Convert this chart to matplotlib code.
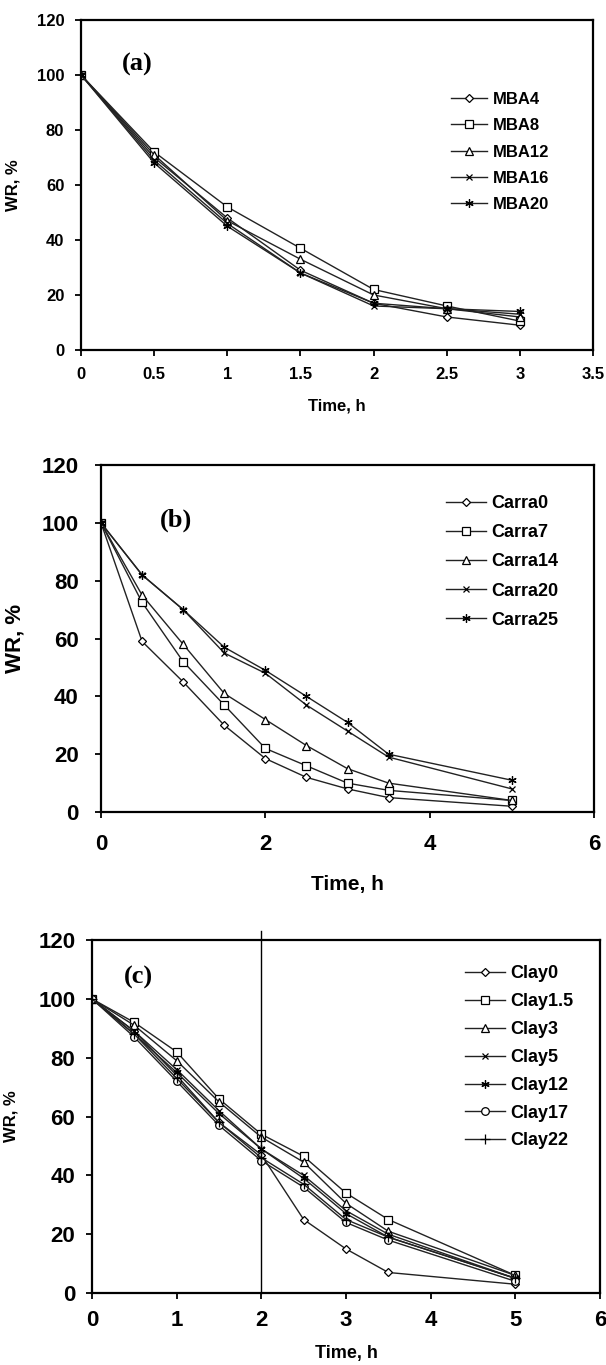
import numpy as np
import matplotlib
matplotlib.use('Agg')
import matplotlib.pyplot as plt

plt.rcParams['font.family'] = ['Liberation Sans', 'DejaVu Sans']
plt.rcParams['font.weight'] = 'bold'
plt.rcParams['axes.labelweight'] = 'bold'

# panel (a): MBA content
time_a = [0, 0.5, 1, 1.5, 2, 2.5, 3]
mba_names = ['MBA4', 'MBA8', 'MBA12', 'MBA16', 'MBA20']
mba4 = [100, 70, 48, 29, 17, 12, 9]
mba8 = [100, 72, 52, 37, 22, 16, 10.5]
mba12 = [100, 71, 47, 33, 20, 15, 12]
mba16 = [100, 69, 46, 28, 16, 15, 13]
mba20 = [100, 68, 45, 28, 17, 15, 14]

# panel (b): carrageenan content
time_b = [0, 0.5, 1, 1.5, 2, 2.5, 3, 3.5, 5]
carra_names = ['Carra0', 'Carra7', 'Carra14', 'Carra20', 'Carra25']
carra0 = [100, 59, 45, 30, 18.5, 12, 8, 5, 2]
carra7 = [100, 72.5, 52, 37, 22, 16, 10, 7.5, 4]
carra14 = [100, 75, 58, 41, 32, 23, 15, 10, 4]
carra20 = [100, 82, 70, 55, 48, 37, 28, 19, 8]
carra25 = [100, 82, 70, 57, 49, 40, 31, 20, 11]

# panel (c): clay content
time_c = [0, 0.5, 1, 1.5, 2, 2.5, 3, 3.5, 5]
clay_names = ['Clay0', 'Clay1.5', 'Clay3', 'Clay5', 'Clay12', 'Clay17', 'Clay22']
clay0 = [100, 89, 74, 58, 47, 25, 15, 7, 3]
clay1_5 = [100, 92, 82, 66, 54, 46.5, 34, 25, 6]
clay3 = [100, 91, 79, 65, 53, 44.5, 30.5, 21, 6]
clay5 = [100, 89, 76, 62, 49, 40, 28, 20, 5]
clay12 = [100, 88, 75, 61, 49, 39, 27, 19, 5]
clay17 = [100, 87, 72, 57, 45, 36, 24, 18, 4]
clay22 = [100, 88, 73, 58, 46, 37, 25, 19, 5]

markers5 = ['D', 's', '^', 'x', (6, 2, 0)]
markers7 = ['D', 's', '^', 'x', (6, 2, 0), 'o', '+']
msizes = {'D': 4.5, 's': 5.5, '^': 6, 'x': 5, 'o': 5.5, '+': 7}

fig = plt.figure(figsize=(6.06, 13.65), dpi=100)


def panel(rect, t, series, names, marks, tag, tagpos, xmax, xstep, fs_tick, fs_leg, leg_pos, leg_space, ypad):
    ax = fig.add_axes(rect)
    for y, name, m in zip(series, names, marks):
        ax.plot(t, y, color='#222222', lw=1.0, marker=m,
                ms=msizes.get(m, 6), mfc='white', mec='black', mew=0.9, label=name)
    ax.set_xlim(0, xmax)
    ax.set_ylim(0, 120)
    ax.set_xticks(np.arange(0, xmax + 0.01, xstep))
    ax.set_yticks(np.arange(0, 121, 20))
    if xstep < 1:
        ax.set_xticklabels(['%g' % v for v in np.arange(0, xmax + 0.01, xstep)])
    for s in ax.spines.values():
        s.set_linewidth(1.6)
    ax.tick_params(direction='out', length=4, width=1.3, labelsize=fs_tick, pad=ypad)
    ax.text(tagpos[0], tagpos[1], tag, transform=ax.transAxes, family='Liberation Serif',
            fontsize=19, fontweight='bold', va='center', ha='left')
    ax.legend(loc='upper left', bbox_to_anchor=leg_pos, frameon=False, fontsize=fs_leg,
              handlelength=2.2, handletextpad=0.3, labelspacing=leg_space, borderpad=0,
              borderaxespad=0)
    return ax


ax_a = panel([0.1337, 0.7436, 0.845, 0.2418], time_a,
             [mba4, mba8, mba12, mba16, mba20], mba_names, markers5,
             '(a)', (0.08, 0.865), 3.5, 0.5, 12, 12, (0.722, 0.782), 0.68, 8)
ax_a.set_ylabel('WR, %', fontsize=12, labelpad=12)
ax_a.set_xlabel('Time, h', fontsize=12, labelpad=12)

ax_b = panel([0.1667, 0.4051, 0.8135, 0.2542], time_b,
             [carra0, carra7, carra14, carra20, carra25], carra_names, markers5,
             '(b)', (0.12, 0.84), 6, 2, 16, 13, (0.70, 0.913), 0.67, 12)
ax_b.set_ylabel('WR, %', fontsize=16, labelpad=12)
ax_b.set_xlabel('Time, h', fontsize=15, labelpad=14)

ax_c = panel([0.1518, 0.0527, 0.8383, 0.2586], time_c,
             [clay0, clay1_5, clay3, clay5, clay12, clay17, clay22], clay_names, markers7,
             '(c)', (0.063, 0.895), 6, 1, 16, 13, (0.735, 0.928), 0.6, 8)
ax_c.set_ylabel('WR, %', fontsize=12, labelpad=14)
ax_c.set_xlabel('Time, h', fontsize=13, labelpad=10)
ax_c.plot([2, 2], [0, 123], color='black', lw=1.0, clip_on=False)

fig.savefig('out.png', dpi=100)
